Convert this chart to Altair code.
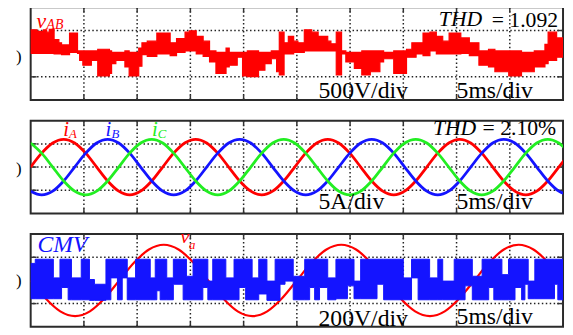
import altair as alt
import pandas as pd

# ---------------- Panel 1 : line voltage v_AB (500 V/div, 5 ms/div) ----------------
VAB_T = [0, 0.6, 1.2, 1.5, 1.75, 2.2, 2.65, 2.9, 3.65, 4.4,
         4.6, 4.9, 5.7, 6.3, 7.4, 7.6, 8.0, 8.85, 9.25, 10.15,
         10.45, 10.95, 11.85, 13.1, 13.7, 14.5, 14.9, 15.55, 16.2, 16.8,
         17.4, 18.35, 18.65, 19.4, 19.9, 20.35, 21.4, 22.0, 22.6, 23.1,
         23.35, 23.8, 24.2, 24.7, 25.1, 25.7, 26.4, 27.0, 27.9, 28.2,
         28.7, 29.2, 29.6, 30.4, 31.1, 31.9, 32.8, 33.15, 34.1, 35.3,
         35.8, 36.2, 36.85, 37.5, 38.1, 38.7, 39.3, 40.4, 41.2, 42.1,
         43.0, 43.6, 44.9, 46.1, 47.3, 48.3, 48.6, 49.4, 50.0]
VAB_TOP = [515, 480, 515, 465, 525, 305, 235, 190, 445, 60,
           60, 60, 60, 95, 60, 30, 30, 60, 30, 120,
           235, 270, 445, 235, 325, 465, 495, 375, 270, 60,
           30, 120, 30, 30, 30, 60, 30, 30, 60, 60,
           465, 235, 375, 270, 235, 515, 465, 375, 270, 215,
           465, 60, 30, 30, 60, 60, 60, 30, 60, 95,
           235, 235, 445, 465, 375, 270, 445, 340, 235, 60,
           95, 60, 60, 30, 60, 200, 465, 340, 340]
VAB_BOT = [5, 5, 5, 5, 5, -5, -5, -20, 30, 5,
           -145, -250, -145, -480, -425, -215, -145, -285, -480, -270,
           -20, -60, -5, -40, 30, 60, 60, -5, -60, -180,
           -425, -285, -250, -75, -480, -495, -355, -215, -110, -390,
           -460, -5, -5, 30, 30, 60, 60, 60, 60, 60,
           -460, -5, -180, -320, -460, -390, -180, -110, -425, -75,
           -75, -5, -40, 60, -5, -5, -5, 5, -40, -250,
           -285, -390, -480, -390, -285, -215, -145, -75, -75]

# ---------------- Panel 2 : phase currents (5 A/div) ----------------
I_T = [0, 1.03, 2.07, 3.10, 4.13, 5.17, 6.20, 7.23, 8.27, 9.30,
       10.33, 11.37, 12.40, 13.43, 14.47, 15.50, 16.53, 17.57, 18.60, 19.63,
       20.67, 21.70, 22.73, 23.77, 24.80, 25.83, 26.87, 27.90, 28.93, 29.97,
       31.00, 32.03, 33.07, 34.10, 35.13, 36.17, 37.20, 38.23, 39.27, 40.30,
       41.33, 42.37, 43.40, 44.43, 45.47, 46.50, 47.53, 48.57, 49.60, 50.63]
I_A = [0, 3, 5.2, 6, 5.2, 3, 0, -3, -5.2, -6, -5.2, -3,
       0, 3, 5.2, 6, 5.2, 3, 0, -3, -5.2, -6, -5.2, -3,
       0, 3, 5.2, 6, 5.2, 3, 0, -3, -5.2, -6, -5.2, -3,
       0, 3, 5.2, 6, 5.2, 3, 0, -3, -5.2, -6, -5.2, -3,
       0, 3]
I_B = [-5.2, -6, -5.2, -3, 0, 3, 5.2, 6, 5.2, 3, 0, -3,
       -5.2, -6, -5.2, -3, 0, 3, 5.2, 6, 5.2, 3, 0, -3,
       -5.2, -6, -5.2, -3, 0, 3, 5.2, 6, 5.2, 3, 0, -3,
       -5.2, -6, -5.2, -3, 0, 3, 5.2, 6, 5.2, 3, 0, -3,
       -5.2, -6]
I_C = [5.2, 3, 0, -3, -5.2, -6, -5.2, -3, 0, 3, 5.2, 6,
       5.2, 3, 0, -3, -5.2, -6, -5.2, -3, 0, 3, 5.2, 6,
       5.2, 3, 0, -3, -5.2, -6, -5.2, -3, 0, 3, 5.2, 6,
       5.2, 3, 0, -3, -5.2, -6, -5.2, -3, 0, 3, 5.2, 6,
       5.2, 3]

# ---------------- Panel 3 : CMV and phase voltage v_a (200 V/div) ----------------
CMV_T = [0, 0.43, 2.13, 2.75, 2.9, 3.52, 3.83, 4.75, 5.52, 5.99,
         7.07, 7.53, 8.15, 8.6, 9.07, 9.85, 11.23, 11.7, 11.85, 12.16,
         12.78, 13.4, 14.32, 14.63, 15.25, 16.17,
         16.64, 17.1, 18.33, 19.1, 19.57, 20.19, 20.8, 21.42, 22.19, 22.96,
         23.42, 23.89, 24.66, 25.74, 26.2, 26.67, 27.13, 27.9, 28.67, 29.75,
         30.37, 30.99, 32.53,
         33.15, 35.0, 35.77, 36.39, 37.47, 38.24, 38.7, 39.78, 40.8, 41.48,
         42.4, 43.02, 43.5, 44.26, 44.88, 45.49, 46.11, 46.42, 46.73, 47.35,
         49.2, 49.51, 50.0]
CMV_TOP = [147, 183, 22, 183, 183, 183, 22, 183, 8, -33,
           183, 183, 183, 183, 22, 183, 22, 183, 183, 183,
           22, 183, 183, 36, 183, 183,
           -6, 183, 22, 183, 183, 183, 22, 183, -6, 183,
           183, 183, 36, 183, 183, 183, 183, 22, 183, 183,
           -6, 183, 183,
           183, 22, 183, 183, 22, 183, -6, 183, 183, 36,
           183, 183, 183, 50, 183, 183, 183, 183, -6, 183,
           183, 183, 183]
CMV_BOT = [-158, -158, -158, -158, -61, -167, -167, -167, -172, -172,
           -167, 22, -167, 22, -167, -167, -167, -167, -89, -167,
           -167, -33, -167, -167, -167, -61,
           -167, -167, -167, -167, -61, -167, -167, -117, -172, -172,
           -33, -6, -167, -167, -61, -167, -61, -167, -158, -47,
           -158, -158, -33,
           -167, -167, 22, -167, -167, -167, -167, -167, -47, -167,
           -167, -61, -167, -167, -167, -61, -167, -33, -158, -158,
           -33, -167, -167]

VA_T = [0, 1.39, 2.78, 4.17, 5.56, 6.94, 8.33, 9.72, 11.11, 12.5,
        13.89, 15.28, 16.67, 18.06, 19.44, 20.83, 22.22, 23.61, 25.0, 26.39,
        27.78, 29.17, 30.56, 31.94, 33.33, 34.72, 36.11, 37.5, 38.89, 40.28,
        41.67, 43.06, 44.44, 45.83, 47.22, 48.61, 50.0]
VA = [0, -154, -267, -308, -267, -154, 0, 154, 267, 308,
      267, 154, 0, -154, -267, -308, -267, -154, 0, 154,
      267, 308, 267, 154, 0, -154, -267, -308, -267, -154,
      0, 154, 267, 308, 267, 154, 0]

# ---------------- grid (divisions) ----------------
X_GRID = [5, 10, 15, 20, 25, 30, 35, 40, 45]
Y_GRID_1 = [-500, 500]
Y_GRID_2 = [-5, 0, 5]
Y_GRID_3 = [-200, 200]

W, H = 540, 94
FONT = "Liberation Serif, Times New Roman, Times, serif"
RED = "#ff0000"
BLUE = "#1414ff"
GREEN = "#22ee22"
ONE = pd.DataFrame({"k": [0]})
XS = alt.Scale(domain=[0, 50], nice=False, zero=False)
DOT = "#222222"


def grid(ys, ygrid):
    gx = alt.Chart(pd.DataFrame({"x": X_GRID})).mark_rule(
        color=DOT, strokeDash=[1.5, 2.5], strokeWidth=1.5
    ).encode(x=alt.X("x:Q", scale=XS, axis=None))
    gy = alt.Chart(pd.DataFrame({"y": ygrid})).mark_rule(
        color=DOT, strokeDash=[1.5, 2.5], strokeWidth=1.5
    ).encode(y=alt.Y("y:Q", scale=ys, axis=None))
    tx1 = alt.Chart(pd.DataFrame({"x": X_GRID})).mark_rule(color="#333333", strokeWidth=1.5).encode(
        x=alt.X("x:Q", scale=XS, axis=None), y=alt.value(0), y2=alt.value(5))
    tx2 = alt.Chart(pd.DataFrame({"x": X_GRID})).mark_rule(color="#333333", strokeWidth=1.5).encode(
        x=alt.X("x:Q", scale=XS, axis=None), y=alt.value(H - 5), y2=alt.value(H))
    ty1 = alt.Chart(pd.DataFrame({"y": ygrid})).mark_rule(color="#333333", strokeWidth=1.5).encode(
        y=alt.Y("y:Q", scale=ys, axis=None), x=alt.value(0), x2=alt.value(6))
    ty2 = alt.Chart(pd.DataFrame({"y": ygrid})).mark_rule(color="#333333", strokeWidth=1.5).encode(
        y=alt.Y("y:Q", scale=ys, axis=None), x=alt.value(W - 6), x2=alt.value(W))
    return [gx, gy, tx1, tx2, ty1, ty2]


def label(text, x, y, size, color="black", style="normal", align="left"):
    return alt.Chart(ONE).mark_text(
        text=text, font=FONT, fontSize=size, fontStyle=style, color=color,
        align=align, baseline="alphabetic"
    ).encode(x=alt.value(x), y=alt.value(y))


# ---- panel 1
ys1 = alt.Scale(domain=[-1000, 1000], nice=False, zero=False)
vab = alt.Chart(pd.DataFrame({"t": VAB_T, "top": VAB_TOP, "bot": VAB_BOT})).mark_area(
    interpolate="step-after", color=RED, stroke=RED, strokeWidth=1.2, clip=True
).encode(x=alt.X("t:Q", scale=XS, axis=None), y=alt.Y("top:Q", scale=ys1, axis=None), y2="bot:Q")
p1 = alt.layer(
    *grid(ys1, Y_GRID_1), vab,
    label("v", 6, 21, 22, RED, "italic"),
    label("AB", 16, 22, 14, RED, "italic"),
    label("THD", 458, 19, 22, "black", "italic", "right"),
    label("= 1.092", 535, 19.5, 22, "black", "normal", "right"),
    label("500V/div", 292, 92, 24),
    label("5ms/div", 432, 92, 24),
    label(")", -15, 55, 17),
).properties(width=W, height=H)

# ---- panel 2
ys2 = alt.Scale(domain=[-10, 10], nice=False, zero=False)
cur = pd.DataFrame({"t": I_T, "a": I_A, "b": I_B, "c": I_C})
def phase(col, color):
    return alt.Chart(cur).mark_line(interpolate="monotone", color=color, strokeWidth=2.8, clip=True).encode(
        x=alt.X("t:Q", scale=XS, axis=None), y=alt.Y(f"{col}:Q", scale=ys2, axis=None))
p2 = alt.layer(
    *grid(ys2, Y_GRID_2), phase("a", RED), phase("b", BLUE), phase("c", GREEN),
    label("i", 33, 15, 21, RED, "italic"), label("A", 39, 18, 13, RED, "italic"),
    label("i", 76, 15, 21, BLUE, "italic"), label("B", 82, 18, 13, BLUE, "italic"),
    label("i", 123, 15, 21, GREEN, "italic"), label("C", 129, 18, 13, GREEN, "italic"),
    label("THD", 452, 14, 22, "black", "italic", "right"),
    label("= 2.10%", 533, 14, 22, "black", "normal", "right"),
    label("5A/div", 292, 90, 24),
    label("5ms/div", 432, 90, 24),
    label(")", -15, 54, 17),
).properties(width=W, height=H)

# ---- panel 3
ys3 = alt.Scale(domain=[-400, 400], nice=False, zero=False)
va = alt.Chart(pd.DataFrame({"t": VA_T, "v": VA})).mark_line(
    interpolate="monotone", color=RED, strokeWidth=2.2, clip=True
).encode(x=alt.X("t:Q", scale=XS, axis=None), y=alt.Y("v:Q", scale=ys3, axis=None))
cmv = alt.Chart(pd.DataFrame({"t": CMV_T, "top": CMV_TOP, "bot": CMV_BOT})).mark_area(
    interpolate="step-after", color=BLUE, stroke=BLUE, strokeWidth=1, clip=True
).encode(x=alt.X("t:Q", scale=XS, axis=None), y=alt.Y("top:Q", scale=ys3, axis=None), y2="bot:Q")
p3 = alt.layer(
    *grid(ys3, Y_GRID_3), va, cmv,
    label("CMV", 7, 18.5, 24, BLUE, "italic"),
    label("v", 152, 9.5, 20, RED, "italic"),
    label("a", 160.5, 15.5, 13, RED, "italic"),
    label("200V/div", 292, 93, 24),
    label("5ms/div", 432, 91, 24),
    label(")", -15, 53, 17),
).properties(width=W, height=H)

chart = alt.vconcat(p1, p2, p3, spacing=21, bounds="flush").properties(
    padding={"left": 7, "top": -5, "right": 0, "bottom": 0}
).configure_view(stroke="#2b2b2b", strokeWidth=2)

chart.save("out.html", embed_options={"renderer": "svg", "actions": False})
